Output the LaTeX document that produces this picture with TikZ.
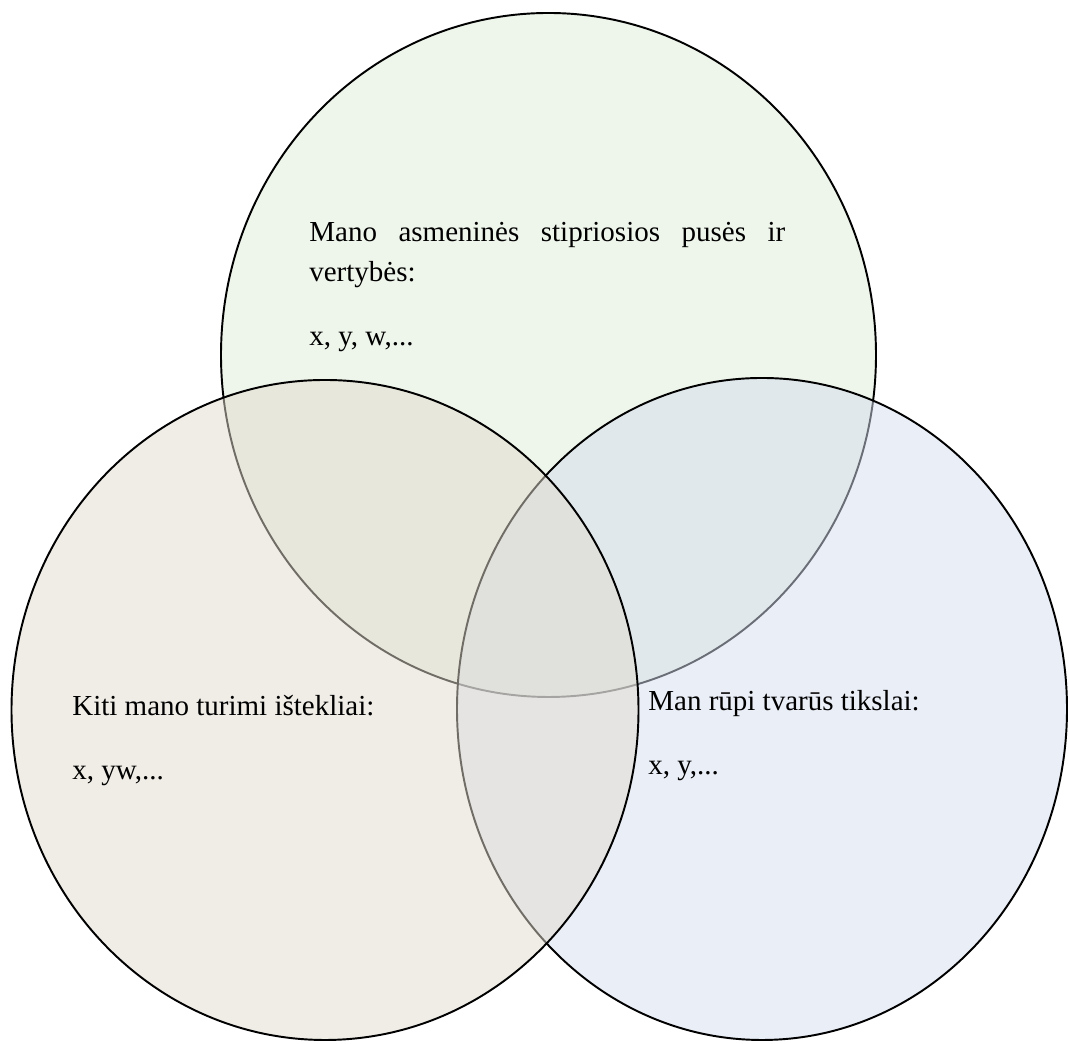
\documentclass[tikz,border=0pt]{standalone}
\usepackage{fontspec}
\setmainfont{Liberation Serif}
\usepackage{tikz}
\usetikzlibrary{positioning}

\definecolor{topfill}{RGB}{221,235,213}
\definecolor{leftfill}{RGB}{225,219,205}
\definecolor{rightfill}{RGB}{213,221,239}

\begin{document}
\begin{tikzpicture}[
  venn/.style={draw=black, line width=1.1pt, fill opacity=0.5},
  label/.style={inner sep=0pt, anchor=north west, font=\fontsize{16.5}{22.8}\selectfont}
]
\useasboundingbox (0,0) rectangle (21.38,20.88);
% circles: top first, then right, then left
\path[venn, fill=topfill]   (10.97,13.78) ellipse (6.55 and 6.84);
\path[venn, fill=rightfill] (15.24,6.70) ellipse (6.10 and 6.62);
\path[venn, fill=leftfill]  (6.50,6.68) ellipse (6.27 and 6.60);

\node[label, text width=9.52cm, align=justify] (strengths) at (6.18,16.44)
  {Mano asmeninės stipriosios pusės ir\linebreak vertybės:\\[13.6pt] x, y, w,...};
\node[label, align=left] (resources) at (1.44,6.98)
  {Kiti mano turimi ištekliai:\\[13.6pt] x, yw,...};
\node[label, align=left] (goals) at (12.96,7.08)
  {Man rūpi tvarūs tikslai:\\[13.6pt] x, y,...};
\end{tikzpicture}
\end{document}
